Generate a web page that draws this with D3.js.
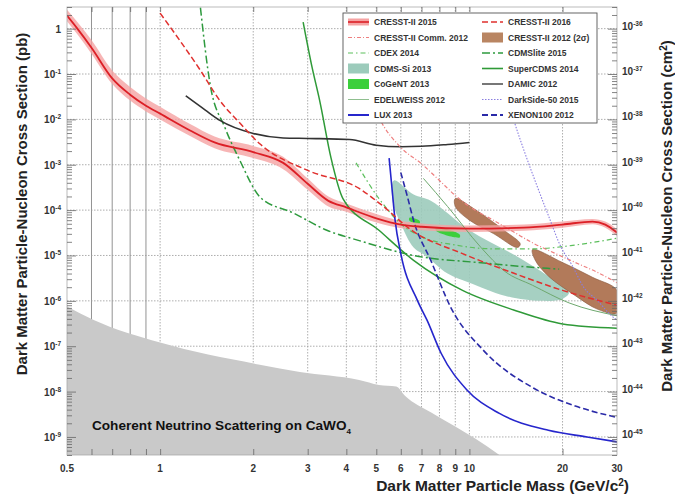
<!DOCTYPE html>
<html><head><meta charset="utf-8">
<script src="https://cdn.jsdelivr.net/npm/d3@7"></script>
<style>body{margin:0;background:#fff} svg{display:block;font-family:"Liberation Sans",Arial,sans-serif}</style>
</head><body><svg id="c" width="675" height="496"></svg>
<script>
// ---------- axis ticks ----------
const xTicks = [0.5,1,2,3,4,5,6,7,8,9,10,20,30];
const xTickLabels = ["0.5","1","2","3","4","5","6","7","8","9","10","20","30"];
const xGrid = [0.6,0.7,0.8,0.9,1,2,3,4,5,6,7,8,9,10,20];
const yTicksLeft = [1,1e-1,1e-2,1e-3,1e-4,1e-5,1e-6,1e-7,1e-8,1e-9];
const yExpLeft = ["0","-1","-2","-3","-4","-5","-6","-7","-8","-9"];
const yTicksRight = [1e-36,1e-37,1e-38,1e-39,1e-40,1e-41,1e-42,1e-43,1e-44,1e-45];
const yExpRight = ["-36","-37","-38","-39","-40","-41","-42","-43","-44","-45"];

// ---------- series (mass GeV, cross section pb) ----------
const cresst2015Mass = [0.5,0.54,0.6,0.7,0.8,0.9,1,1.25,1.5,2,2.5,3,3.5,4,5,6,7,10,15,20,25,27.5,30];
const cresst2015Sigma = [1.93,1.0,0.38,0.08,0.035,0.02,0.0134,0.0057,0.0031,0.0019,0.0011,0.00038,0.00016,0.000115,0.000066,0.000048,0.000043,0.000039,0.000041,0.000048,0.000056,0.000048,0.000032];
const cresst2015Hi = [2.6,1.4,0.56,0.12,0.052,0.029,0.019,0.0079,0.0042,0.0026,0.0015,0.0005,0.0002,0.00014,0.000082,0.000058,0.000051,0.000046,0.000048,0.000056,0.000064,0.000056,0.000038];
const cresst2015Lo = [1.45,0.75,0.28,0.06,0.026,0.015,0.01,0.0043,0.0023,0.0014,0.0008,0.00028,0.00012,0.000092,0.000053,0.00004,0.000036,0.000033,0.000035,0.000041,0.000049,0.000041,0.000027];

const cresst2016Mass = [1,1.35,1.56,1.82,2.1,3,4.4,5.2,6.5,9.5,14,20,30];
const cresst2016Sigma = [2.2,0.12,0.026,0.008,0.0029,0.00075,0.0003,0.00013,0.000036,0.000011,0.000004,0.0000017,0.0000008];

const cresstComm2012Mass = [4.9,5.1,6,7,8,9,10,12,14,16,19,22,26,30];
const cresstComm2012Sigma = [0.02,0.011,0.0024,0.00105,0.00045,0.00021,0.00012,0.000059,0.000032,0.000019,0.000011,0.000007,0.0000042,0.0000025];

const cresst2012M1Mass = [9.0,10.5,13,14.6,14.3,12,10,9.0];
const cresst2012M1Sigma = [0.00018,0.0001,0.000035,0.000018,0.000015,0.00003,0.00006,0.00012];
const cresst2012M2Mass = [16,20,25,30,30,26,22,18,16.3];
const cresst2012M2Sigma = [0.0000135,0.000007,0.0000033,0.0000017,0.00000054,0.00000065,0.0000013,0.0000035,0.000008];

const cdexMass = [4.3,5.1,6,7,9,12,16,22,30];
const cdexSigma = [0.0011,0.00018,0.00005,0.000026,0.000017,0.000014,0.000014,0.000017,0.000024];

const cdmsliteMass = [1.35,1.45,1.62,1.81,2.11,2.7,3.46,4.43,6.6,10.9,17.9,19.5];
const cdmsliteSigma = [2.9,0.061,0.0066,0.00125,0.00019,0.000086,0.000036,0.000021,0.00001,0.0000069,0.0000052,0.000005];

const cdmsSiMass = [5.7,6.6,7.5,10,15,20.2,21,20,17,13,10,8.5,7.2,6.6,6.0,5.65];
const cdmsSiSigma = [0.00045,0.00022,0.00016,0.000036,0.0000078,0.000002,0.0000015,0.0000011,0.000001,0.0000013,0.0000025,0.000004,0.00001,0.000015,0.00005,0.00015];

const cogentAMass = [6.4,6.9,6.9,6.4];
const cogentASigma = [0.000068,0.000058,0.000050,0.000058];
const cogentBMass = [7.8,9.3,9.3,7.8];
const cogentBSigma = [0.000042,0.000029,0.000025,0.000035];

const superCdmsMass = [2.9,3.1,3.28,3.57,3.9,5.1,6.6,9.5,13.9,20,30];
const superCdmsSigma = [1.4,0.14,0.026,0.0014,0.00018,0.000036,0.0000078,0.0000017,0.00000063,0.00000031,0.00000025];

const damicMass = [1.21,1.4,1.56,2,2.5,3,4.1,5,6,7,8.5,10];
const damicSigma = [0.033,0.016,0.0095,0.0049,0.0039,0.0038,0.0036,0.0027,0.0025,0.00255,0.0028,0.0031];

const edelweissMass = [7.1,8.5,10.9,13,16,21,30];
const edelweissSigma = [0.0005,0.00012,0.000015,0.0000045,0.0000022,0.0000009,0.00000047];

const darksideMass = [13.3,14,15,16.6,18,19.8,21.5,23.4,26,28.2,30];
const darksideSigma = [0.03,0.0085,0.0021,0.00032,0.000076,0.000015,0.000006,0.000002,0.000001,0.00000054,0.00000037];

const luxMass = [5.5,5.62,5.75,6.0,6.8,7.3,8.1,9.8,12.5,18,24,30];
const luxSigma = [0.0014,0.0003,0.00006,0.000011,0.000001,0.00000037,0.00000007,0.000000011,0.0000000033,0.0000000014,0.000000001,0.00000000078];

const xenonMass = [6.0,6.3,6.6,7.5,8.7,11.1,16.1,22,30];
const xenonSigma = [0.00067,0.0002,0.000059,0.0000078,0.00000072,0.000000081,0.000000012,0.0000000048,0.0000000027];

const neutrinoMass = [0.5,0.61,1,2.1,2.83,4.4,5.1,5.8,6.2,7.5,9,10.5,12.5];
const neutrinoSigma = [7.5e-7,3.8e-7,1.2e-7,3.9e-8,2.7e-8,1.8e-8,1.4e-8,1.3e-8,8e-9,3.5e-9,1.7e-9,9e-10,4e-10];

// ---------- setup ----------
const svg = d3.select("#c");
const L=67,R=617,T=7,B=455;
const x = d3.scaleLog().domain([0.5,30]).range([L,R]);
const y = d3.scaleLog().domain([4e-10,3]).range([B,T]);
const yR = d3.scaleLog().domain([4e-46,3e-36]).range([B,T]);
const zip = (a,b)=>a.map((m,i)=>[m,b[i]]);
const line = d3.line().x(d=>x(d[0])).y(d=>y(d[1])).curve(d3.curveMonotoneX);
const poly = d3.line().x(d=>x(d[0])).y(d=>y(d[1])).curve(d3.curveCatmullRomClosed.alpha(0.5));

svg.append("defs").append("clipPath").attr("id","clip").append("rect")
  .attr("x",L).attr("y",T).attr("width",R-L).attr("height",B-T);

// grid
const grid = svg.append("g");
grid.selectAll(".vg").data(xGrid).join("line")
  .attr("x1",d=>x(d)).attr("x2",d=>x(d)).attr("y1",T).attr("y2",B)
  .attr("stroke",d=>d<1?"#777":"#999").attr("stroke-width",0.8).attr("stroke-dasharray",d=>d<1?null:"1.5,1.5");
grid.selectAll(".hg").data(yTicksLeft).join("line")
  .attr("x1",L).attr("x2",R).attr("y1",d=>y(d)).attr("y2",d=>y(d))
  .attr("stroke","#999").attr("stroke-width",0.8).attr("stroke-dasharray","1.5,1.5");

const plot = svg.append("g").attr("clip-path","url(#clip)");

// neutrino floor
const nPts = zip(neutrinoMass,neutrinoSigma);
const area = d3.area().x(d=>x(d[0])).y0(B).y1(d=>y(d[1])).curve(d3.curveMonotoneX);
plot.append("path").attr("d",area(nPts)).attr("fill","#c9c9c9");

// fills
plot.append("path").attr("d",poly(zip(cdmsSiMass,cdmsSiSigma))).attr("fill","#9ccbbb").attr("opacity",0.9);
plot.append("path").attr("d",poly(zip(cresst2012M1Mass,cresst2012M1Sigma))).attr("fill","#b27a5a").attr("stroke","#8a5a40").attr("stroke-width",0.6);
plot.append("path").attr("d",poly(zip(cresst2012M2Mass,cresst2012M2Sigma))).attr("fill","#b27a5a").attr("stroke","#8a5a40").attr("stroke-width",0.6);
plot.append("path").attr("d",poly(zip(cogentAMass,cogentASigma))).attr("fill","#3ccf3c");
plot.append("path").attr("d",poly(zip(cogentBMass,cogentBSigma))).attr("fill","#3ccf3c");

// CRESST-II 2015 band
const bandArea = d3.area().x(d=>x(d[0])).y0(d=>y(d[1])).y1(d=>y(d[2])).curve(d3.curveMonotoneX);
plot.append("path").attr("d",bandArea(cresst2015Mass.map((m,i)=>[m,cresst2015Lo[i],cresst2015Hi[i]])))
  .attr("fill","#f5a3a3").attr("opacity",0.8);

const series = [
  {m:edelweissMass,s:edelweissSigma,c:"#6ea86e",w:1,d:null},
  {m:cdexMass,s:cdexSigma,c:"#5cbf5c",w:1.2,d:"5,3,1.5,3"},
  {m:cdmsliteMass,s:cdmsliteSigma,c:"#2e9a3e",w:1.5,d:"8,3,2,3"},
  {m:superCdmsMass,s:superCdmsSigma,c:"#2f9a38",w:1.5,d:null},
  {m:damicMass,s:damicSigma,c:"#333333",w:1.6,d:null},
  {m:cresstComm2012Mass,s:cresstComm2012Sigma,c:"#ee8080",w:1.2,d:"4,2,1,2"},
  {m:darksideMass,s:darksideSigma,c:"#8a7ee0",w:1.1,d:"1.5,1.5"},
  {m:luxMass,s:luxSigma,c:"#2626cc",w:1.6,d:null},
  {m:xenonMass,s:xenonSigma,c:"#2a2aa8",w:1.6,d:"6,3"},
  {m:cresst2016Mass,s:cresst2016Sigma,c:"#e0302e",w:1.5,d:"6,3"},
  {m:cresst2015Mass,s:cresst2015Sigma,c:"#dc1f26",w:1.8,d:null}
];
series.forEach(sr=>{
  plot.append("path").attr("d",line(zip(sr.m,sr.s))).attr("fill","none")
    .attr("stroke",sr.c).attr("stroke-width",sr.w).attr("stroke-dasharray",sr.d);
});

// frame
svg.append("rect").attr("x",L).attr("y",T).attr("width",R-L).attr("height",B-T)
  .attr("fill","none").attr("stroke","#aaa").attr("stroke-width",0.8);

// axes
function minors(lo,hi){const a=[];for(let e=lo;e<=hi;e++)for(let k=2;k<=9;k++)a.push(k*Math.pow(10,e));return a;}
const axG = svg.append("g").attr("color","#666");
axG.append("g").attr("transform",`translate(${L},0)`).call(d3.axisLeft(y).tickValues(yTicksLeft).tickSize(-9).tickFormat(""));
axG.append("g").attr("transform",`translate(${L},0)`).call(d3.axisLeft(y).tickValues(minors(-10,0).filter(v=>v>=4e-10&&v<=3)).tickSize(-5).tickFormat(""));
axG.append("g").attr("transform",`translate(${R},0)`).call(d3.axisRight(yR).tickValues(yTicksRight).tickSize(-9).tickFormat(""));
axG.append("g").attr("transform",`translate(${R},0)`).call(d3.axisRight(yR).tickValues(minors(-46,-36).filter(v=>v>=4e-46&&v<=3e-36)).tickSize(-5).tickFormat(""));
axG.append("g").attr("transform",`translate(0,${B})`).call(d3.axisBottom(x).tickValues(xGrid).tickSize(-6).tickFormat(""));
axG.append("g").attr("transform",`translate(0,${T})`).call(d3.axisTop(x).tickValues(xGrid).tickSize(-5).tickFormat(""));
axG.selectAll(".domain").remove();
axG.selectAll("line").attr("stroke-width",0.8);

// tick labels
const lab = svg.append("g").attr("font-weight","bold").attr("fill","#333");
xTicks.forEach((v,i)=>{
  lab.append("text").attr("x",x(v)).attr("y",B+17).attr("text-anchor","middle").attr("font-size",10).text(xTickLabels[i]);
});
yTicksLeft.forEach((v,i)=>{
  const t = lab.append("text").attr("x",L-6).attr("y",y(v)+4).attr("text-anchor","end").attr("font-size",10);
  if(yExpLeft[i]==="0"){ t.text("1"); }
  else { t.append("tspan").text("10"); t.append("tspan").attr("dy",-4).attr("font-size",6.5).text(yExpLeft[i]); }
});
yTicksRight.forEach((v,i)=>{
  const t = lab.append("text").attr("x",R+5).attr("y",yR(v)+1).attr("text-anchor","start").attr("font-size",10);
  t.append("tspan").text("10"); t.append("tspan").attr("dy",-4).attr("font-size",6.5).text(yExpRight[i]);
});

// axis titles
const tt = svg.append("g").attr("font-weight","bold").attr("fill","#222").attr("font-size",15);
tt.append("text").attr("transform","translate(27,204) rotate(-90)").attr("text-anchor","middle")
  .text("Dark Matter Particle-Nucleon Cross Section (pb)");
const rt = tt.append("text").attr("transform","translate(672,216) rotate(-90)").attr("text-anchor","middle");
rt.append("tspan").text("Dark Matter Particle-Nucleon Cross Section (cm");
rt.append("tspan").attr("dy",-5).attr("font-size",10).text("2");
rt.append("tspan").attr("dy",5).text(")");
const xt = tt.append("text").attr("x",629).attr("y",491).attr("text-anchor","end").attr("font-size",15.5);
xt.append("tspan").text("Dark Matter Particle Mass (GeV/c");
xt.append("tspan").attr("dy",-5).attr("font-size",10).text("2");
xt.append("tspan").attr("dy",5).text(")");

// neutrino text
const nt = svg.append("text").attr("x",92).attr("y",430).attr("font-weight","bold").attr("font-size",13.6).attr("fill","#111");
nt.append("tspan").text("Coherent Neutrino Scattering on CaWO");
nt.append("tspan").attr("dy",4).attr("font-size",8).text("4");

// legend
const legLeft = [
  {t:"CRESST-II 2015",type:"band",c:"#dc1f26",f:"#f5a3a3"},
  {t:"CRESST-II Comm. 2012",type:"line",c:"#ee8080",d:"4,2,1,2",w:1.2},
  {t:"CDEX 2014",type:"line",c:"#5cbf5c",d:"5,3,1.5,3",w:1.2},
  {t:"CDMS-Si 2013",type:"rect",f:"#9ccbbb"},
  {t:"CoGeNT 2013",type:"rect",f:"#3ccf3c"},
  {t:"EDELWEISS 2012",type:"line",c:"#8fbf8f",d:null,w:1},
  {t:"LUX 2013",type:"line",c:"#2626cc",d:null,w:2}
];
const legRight = [
  {t:"CRESST-II 2016",type:"line",c:"#e0302e",d:"6,3",w:1.6},
  {t:"CRESST-II 2012 (2\u03c3)",type:"rect",f:"#b98562"},
  {t:"CDMSlite 2015",type:"line",c:"#2e9a3e",d:"8,3,2,3",w:1.5},
  {t:"SuperCDMS 2014",type:"line",c:"#2f9a38",d:null,w:1.6},
  {t:"DAMIC 2012",type:"line",c:"#555",d:null,w:1.6},
  {t:"DarkSide-50 2015",type:"line",c:"#8a7ee0",d:"1.5,1.5",w:1.2},
  {t:"XENON100 2012",type:"line",c:"#2a2aa8",d:"6,3",w:2}
];
const lg = svg.append("g");
lg.append("rect").attr("x",343).attr("y",13).attr("width",254).attr("height",110)
  .attr("fill","#fff").attr("stroke","#555").attr("stroke-width",0.9);
function legCol(items,x0){
  items.forEach((it,i)=>{
    const cy = 22 + i*15.5;
    if(it.type==="band"){
      lg.append("rect").attr("x",x0).attr("y",cy-3.5).attr("width",21).attr("height",7).attr("fill",it.f);
      lg.append("line").attr("x1",x0).attr("x2",x0+21).attr("y1",cy).attr("y2",cy).attr("stroke",it.c).attr("stroke-width",1.6);
    } else if(it.type==="rect"){
      lg.append("rect").attr("x",x0).attr("y",cy-5).attr("width",21).attr("height",10).attr("fill",it.f);
    } else {
      lg.append("line").attr("x1",x0).attr("x2",x0+21).attr("y1",cy).attr("y2",cy).attr("stroke",it.c)
        .attr("stroke-width",it.w).attr("stroke-dasharray",it.d);
    }
    lg.append("text").attr("x",x0+26).attr("y",cy+3).attr("font-size",8.5).attr("font-weight","bold").attr("fill","#333").text(it.t);
  });
}
legCol(legLeft,348);
legCol(legRight,482);
</script></body></html>
